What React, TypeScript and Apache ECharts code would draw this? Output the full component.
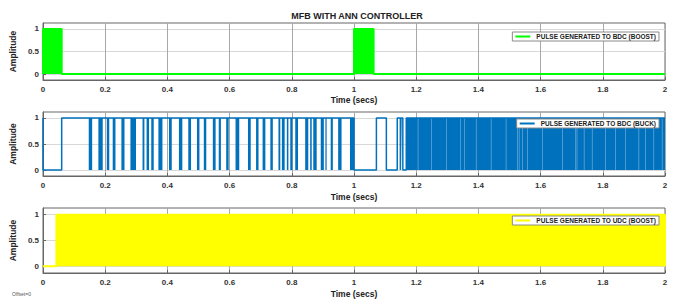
import React, { useEffect, useRef } from 'react';
import * as echarts from 'echarts';

const FONT = '"Liberation Sans", Arial, Helvetica, sans-serif';

const chartTitle = 'MFB WITH ANN CONTROLLER';
const xAxisName = 'Time (secs)';
const yAxisName = 'Amplitude';
const yTickValues = [0, 0.5, 1];

const seriesNames = [
  'PULSE GENERATED TO BDC (BOOST)',
  'PULSE GENERATED TO BDC (BUCK)',
  'PULSE GENERATED TO UDC (BOOST)',
];

// Top: BDC boost pulse (high intervals, secs)
const bdcBoostHigh: [number, number][] = [
  [0, 0.06],
  [1.0, 1.063],
];

// Middle: BDC buck pulse - low intervals of the envelope
const bdcBuckLow: [number, number][] = [
  [0, 0.06],
  [1.0, 1.072],
  [1.104, 1.139],
  [1.149, 1.151],
  [1.157, 1.168],
];

// Middle: narrow switching bursts (drawn as filled bars)
const bdcBuckBursts: [number, number][] = [
  [0.147, 0.158], [0.178, 0.192], [0.205, 0.213], [0.224, 0.233], [0.252, 0.262],
  [0.281, 0.299], [0.32, 0.326], [0.333, 0.341], [0.348, 0.356], [0.371, 0.384],
  [0.405, 0.414], [0.437, 0.448], [0.467, 0.476], [0.495, 0.503], [0.517, 0.525],
  [0.546, 0.555], [0.565, 0.572], [0.589, 0.597], [0.619, 0.631], [0.659, 0.668],
  [0.685, 0.693], [0.706, 0.715], [0.731, 0.739], [0.757, 0.763], [0.768, 0.777],
  [0.784, 0.789], [0.795, 0.802], [0.811, 0.82], [0.843, 0.853], [0.859, 0.864],
  [0.869, 0.88], [0.893, 0.903], [0.908, 0.912], [0.925, 0.932], [0.949, 0.96],
  [0.987, 1.0],
];

// Middle: dense switching region and the thin lighter gaps seen inside it
const bdcBuckDense: [number, number][] = [[1.168, 2]];
const bdcBuckDenseGaps: [number, number][] = [
  [1.205, 1.2065], [1.248, 1.2495], [1.296, 1.2975], [1.342, 1.3435], [1.355, 1.3565],
  [1.392, 1.3935], [1.44, 1.4415], [1.488, 1.4895], [1.525, 1.5265], [1.53, 1.5315],
  [1.541, 1.5425], [1.557, 1.5585], [1.605, 1.6065], [1.669, 1.6705], [1.712, 1.7135],
  [1.716, 1.7175], [1.739, 1.7405], [1.765, 1.7665], [1.808, 1.8095], [1.84, 1.8415],
  [1.872, 1.8735], [1.915, 1.9165], [1.936, 1.9375], [1.963, 1.9645], [1.99, 1.9915],
];

// Bottom: UDC boost pulse (high intervals)
const udcBoostHigh: [number, number][] = [[0.043, 2]];

const T_END = 2;

function stepFromHigh(high: [number, number][]): number[][] {
  const pts: number[][] = [[0, 0]];
  for (const [a, b] of high) {
    pts.push([a, 0], [a, 1], [b, 1], [b, 0]);
  }
  pts.push([T_END, 0]);
  return pts;
}

function stepFromLow(low: [number, number][]): number[][] {
  const pts: number[][] = [[0, 1]];
  for (const [a, b] of low) {
    pts.push([a, 1], [a, 0], [b, 0], [b, 1]);
  }
  pts.push([T_END, 1]);
  return pts;
}

const GREEN = '#00ff00';
const BLUE = '#0072bd';
const BLUE_GAP = '#7fb6e0';
const YELLOW = '#ffff00';

export default function App() {
  const ref = useRef<HTMLDivElement>(null);

  useEffect(() => {
    document.body.style.margin = '0';
    if (!ref.current) return;
    const chart = echarts.init(ref.current, undefined, { renderer: 'svg' });

    const grids = [
      { left: 40, right: 14, top: 23, height: 57 },
      { left: 40, right: 14, top: 112, height: 64 },
      { left: 40, right: 14, top: 208, height: 65 },
    ];
    const yRanges = [
      [-0.13, 1.13],
      [-0.115, 1.115],
      [-0.13, 1.13],
    ];
    const nameGaps = [15, 16, 16];

    const axisColor = '#666';
    const labelStyle = { fontSize: 8, fontWeight: 'bold' as const, color: '#333', fontFamily: FONT };
    const nameStyle = { fontSize: 8.5, fontWeight: 'bold' as const, color: '#222', fontFamily: FONT };

    const xAxes = grids.map((_, i) => ({
      gridIndex: i,
      type: 'value',
      min: 0,
      max: 2,
      interval: 0.2,
      axisLine: { show: true, onZero: false, lineStyle: { color: axisColor } },
      axisTick: { show: true, inside: true, length: 3, lineStyle: { color: axisColor } },
      axisLabel: { ...labelStyle, margin: 5 },
      splitLine: { show: true, lineStyle: { color: '#a8a8a8', width: 1 } },
      name: xAxisName,
      nameLocation: 'middle',
      nameGap: nameGaps[i],
      nameTextStyle: nameStyle,
    }));

    const yAxes = grids.map((_, i) => ({
      gridIndex: i,
      type: 'value',
      min: yRanges[i][0],
      max: yRanges[i][1],
      axisLine: { show: true, onZero: false, lineStyle: { color: axisColor } },
      axisTick: { show: true, inside: true, length: 3, customValues: yTickValues, lineStyle: { color: axisColor } },
      axisLabel: { ...labelStyle, margin: 4, customValues: yTickValues },
      splitLine: { show: true, lineStyle: { color: '#d8d8d8', width: 1 } },
      name: yAxisName,
      nameLocation: 'middle',
      nameGap: 17,
      nameTextStyle: nameStyle,
    }));

    const rectRender = (color: string, minW: number) => (params: any, api: any) => {
      const x0 = api.value(0);
      const x1 = api.value(1);
      const p0 = api.coord([x0, 1]);
      const p1 = api.coord([x1, 0]);
      const w = Math.max(p1[0] - p0[0], minW);
      return {
        type: 'rect',
        shape: { x: p0[0], y: p0[1], width: w, height: p1[1] - p0[1] },
        style: { fill: color },
      };
    };

    const legends = [
      { top: 32, name: seriesNames[0], color: GREEN },
      { top: 119, name: seriesNames[1], color: BLUE },
      { top: 216, name: seriesNames[2], color: YELLOW },
    ].map((l) => ({
      data: [{ name: l.name, icon: 'rect', itemStyle: { color: l.color } }],
      right: 20,
      top: l.top,
      orient: 'horizontal',
      padding: [1, 3, 1, 3],
      itemWidth: 15,
      itemHeight: 2,
      itemGap: 0,
      borderColor: '#8a8a8a',
      borderWidth: 1,
      borderRadius: 0,
      backgroundColor: '#fff',
      selectedMode: false,
      textStyle: { fontSize: 6.5, fontWeight: 'bold', color: '#222', fontFamily: FONT, padding: [0, 0, 0, 1] },
    }));

    chart.setOption({
      animation: false,
      backgroundColor: '#fff',
      textStyle: { fontFamily: FONT },
      title: {
        text: chartTitle,
        left: 352,
        textAlign: 'center',
        top: 6,
        textStyle: { fontSize: 9, fontWeight: 'bold', color: '#222', fontFamily: FONT },
      },
      grid: grids.map((g) => ({ ...g, show: true, borderColor: axisColor, borderWidth: 1, backgroundColor: 'transparent' })),
      xAxis: xAxes,
      yAxis: yAxes,
      legend: legends,
      graphic: [
        {
          type: 'text',
          left: 12,
          top: 291,
          style: { text: 'Offset=0', fontSize: 5, fill: '#555', fontFamily: FONT },
        },
      ],
      series: [
        {
          name: seriesNames[0],
          type: 'line',
          xAxisIndex: 0,
          yAxisIndex: 0,
          data: stepFromHigh(bdcBoostHigh),
          showSymbol: false,
          symbol: 'none',
          lineStyle: { color: GREEN, width: 2 },
          itemStyle: { color: GREEN },
          areaStyle: { color: GREEN, opacity: 1 },
        },
        {
          name: seriesNames[1],
          type: 'line',
          xAxisIndex: 1,
          yAxisIndex: 1,
          data: stepFromLow(bdcBuckLow),
          showSymbol: false,
          symbol: 'none',
          lineStyle: { color: BLUE, width: 1.5 },
          itemStyle: { color: BLUE },
        },
        {
          name: 'buck bursts',
          type: 'custom',
          xAxisIndex: 1,
          yAxisIndex: 1,
          data: bdcBuckBursts,
          encode: { x: [0, 1] },
          renderItem: rectRender(BLUE, 1.2),
          itemStyle: { color: BLUE },
        },
        {
          name: 'buck dense',
          type: 'custom',
          xAxisIndex: 1,
          yAxisIndex: 1,
          data: bdcBuckDense,
          encode: { x: [0, 1] },
          renderItem: rectRender(BLUE, 1),
          itemStyle: { color: BLUE },
        },
        {
          name: 'buck dense gaps',
          type: 'custom',
          xAxisIndex: 1,
          yAxisIndex: 1,
          data: bdcBuckDenseGaps,
          encode: { x: [0, 1] },
          renderItem: rectRender(BLUE_GAP, 0.6),
          itemStyle: { color: BLUE_GAP },
        },
        {
          name: seriesNames[2],
          type: 'line',
          xAxisIndex: 2,
          yAxisIndex: 2,
          data: stepFromHigh(udcBoostHigh),
          showSymbol: false,
          symbol: 'none',
          lineStyle: { color: YELLOW, width: 2 },
          itemStyle: { color: YELLOW },
          areaStyle: { color: YELLOW, opacity: 1 },
        },
      ],
    });

    return () => {
      chart.dispose();
    };
  }, []);

  return <div ref={ref} style={{ width: 679, height: 300 }} />;
}
